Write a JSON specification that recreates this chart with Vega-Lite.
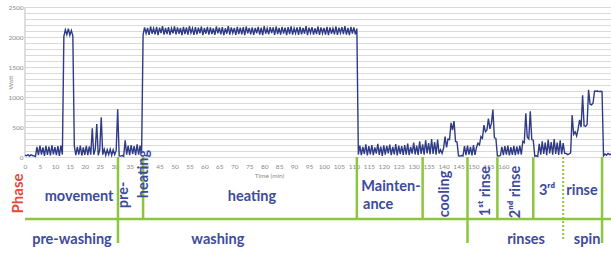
{
  "$schema": "https://vega.github.io/schema/vega-lite/v6.json",
  "width": 586,
  "height": 240,
  "autosize": {"type": "none"},
  "padding": {"left": 25, "top": 7, "right": 0, "bottom": 8},
  "config": {"view": {"stroke": null}, "font": "Lato"},
  "datasets": {
    "frame": [{"t": 0, "w": 0, "w2": 2500}],
    "power": [
      {"t":0,"w":30},{"t":0.5,"w":20},{"t":1,"w":40},{"t":1.5,"w":15},{"t":2,"w":35},{"t":2.5,"w":25},{"t":3,"w":20},{"t":3.5,"w":10},
      {"t":4,"w":170},{"t":4.5,"w":30},{"t":5,"w":190},{"t":5.5,"w":40},{"t":6,"w":160},{"t":6.5,"w":20},{"t":7,"w":185},{"t":7.5,"w":35},{"t":8,"w":175},{"t":8.5,"w":25},{"t":9,"w":195},{"t":9.5,"w":45},{"t":10,"w":165},{"t":10.5,"w":30},{"t":11,"w":180},{"t":11.5,"w":20},{"t":12,"w":190},{"t":12.5,"w":40},
      {"t":13,"w":2010},{"t":13.5,"w":2120},{"t":14,"w":2040},{"t":14.5,"w":2140},{"t":15,"w":2030},{"t":15.5,"w":2110},{"t":16,"w":2020},
      {"t":16.5,"w":180},{"t":17,"w":30},{"t":17.5,"w":170},{"t":18,"w":40},{"t":18.5,"w":190},{"t":19,"w":25},{"t":19.5,"w":160},{"t":20,"w":35},{"t":20.5,"w":185},{"t":21,"w":30},{"t":21.5,"w":175},{"t":22,"w":40},
      {"t":22.5,"w":480},{"t":23,"w":40},{"t":23.5,"w":130},{"t":24,"w":550},{"t":24.5,"w":30},{"t":25,"w":120},{"t":25.5,"w":660},{"t":26,"w":40},{"t":26.5,"w":130},{"t":27,"w":30},{"t":27.5,"w":120},{"t":28,"w":40},{"t":28.5,"w":130},{"t":29,"w":30},{"t":29.5,"w":120},{"t":30,"w":40},{"t":30.5,"w":110},{"t":31,"w":795},{"t":31.5,"w":20},
      {"t":32,"w":15},{"t":32.5,"w":25},{"t":33,"w":10},
      {"t":33.5,"w":280},{"t":34,"w":40},{"t":34.5,"w":190},{"t":35,"w":30},{"t":35.5,"w":200},{"t":36,"w":50},{"t":36.5,"w":180},{"t":37,"w":30},{"t":37.5,"w":210},{"t":38,"w":40},{"t":38.5,"w":190},{"t":39,"w":60},
      {"t":39.5,"w":2040},{"t":40,"w":2160},{"t":40.5,"w":2060},{"t":41,"w":2150},{"t":41.5,"w":2035},{"t":42,"w":2175},{"t":42.5,"w":2055},{"t":43,"w":2145},{"t":43.5,"w":2045},{"t":44,"w":2170},{"t":44.5,"w":2030},{"t":45,"w":2155},
      {"t":45.5,"w":2065},{"t":46,"w":2180},{"t":46.5,"w":2040},{"t":47,"w":2150},{"t":47.5,"w":2050},{"t":48,"w":2165},{"t":48.5,"w":2035},{"t":49,"w":2145},{"t":49.5,"w":2060},{"t":50,"w":2175},{"t":50.5,"w":2045},{"t":51,"w":2160},
      {"t":51.5,"w":2055},{"t":52,"w":2150},{"t":52.5,"w":2030},{"t":53,"w":2170},{"t":53.5,"w":2050},{"t":54,"w":2160},{"t":54.5,"w":2040},{"t":55,"w":2180},{"t":55.5,"w":2065},{"t":56,"w":2145},{"t":56.5,"w":2035},{"t":57,"w":2165},
      {"t":57.5,"w":2045},{"t":58,"w":2155},{"t":58.5,"w":2060},{"t":59,"w":2175},{"t":59.5,"w":2030},{"t":60,"w":2150},{"t":60.5,"w":2055},{"t":61,"w":2170},{"t":61.5,"w":2040},{"t":62,"w":2160},{"t":62.5,"w":2050},{"t":63,"w":2145},
      {"t":63.5,"w":2035},{"t":64,"w":2175},{"t":64.5,"w":2060},{"t":65,"w":2155},{"t":65.5,"w":2045},{"t":66,"w":2165},{"t":66.5,"w":2030},{"t":67,"w":2145},{"t":67.5,"w":2055},{"t":68,"w":2180},{"t":68.5,"w":2040},{"t":69,"w":2160},
      {"t":69.5,"w":2065},{"t":70,"w":2150},{"t":70.5,"w":2035},{"t":71,"w":2170},{"t":71.5,"w":2050},{"t":72,"w":2155},{"t":72.5,"w":2045},{"t":73,"w":2165},{"t":73.5,"w":2030},{"t":74,"w":2175},{"t":74.5,"w":2060},{"t":75,"w":2150},
      {"t":75.5,"w":2045},{"t":76,"w":2160},{"t":76.5,"w":2035},{"t":77,"w":2150},{"t":77.5,"w":2060},{"t":78,"w":2170},{"t":78.5,"w":2040},{"t":79,"w":2155},{"t":79.5,"w":2030},{"t":80,"w":2180},{"t":80.5,"w":2055},{"t":81,"w":2145},
      {"t":81.5,"w":2045},{"t":82,"w":2165},{"t":82.5,"w":2065},{"t":83,"w":2160},{"t":83.5,"w":2035},{"t":84,"w":2175},{"t":84.5,"w":2050},{"t":85,"w":2150},{"t":85.5,"w":2040},{"t":86,"w":2170},{"t":86.5,"w":2055},{"t":87,"w":2155},
      {"t":87.5,"w":2030},{"t":88,"w":2165},{"t":88.5,"w":2050},{"t":89,"w":2175},{"t":89.5,"w":2040},{"t":90,"w":2145},{"t":90.5,"w":2060},{"t":91,"w":2160},{"t":91.5,"w":2035},{"t":92,"w":2170},{"t":92.5,"w":2045},{"t":93,"w":2150},
      {"t":93.5,"w":2055},{"t":94,"w":2180},{"t":94.5,"w":2030},{"t":95,"w":2155},{"t":95.5,"w":2065},{"t":96,"w":2165},{"t":96.5,"w":2040},{"t":97,"w":2145},{"t":97.5,"w":2050},{"t":98,"w":2175},{"t":98.5,"w":2035},{"t":99,"w":2160},
      {"t":99.5,"w":2060},{"t":100,"w":2150},{"t":100.5,"w":2040},{"t":101,"w":2170},{"t":101.5,"w":2030},{"t":102,"w":2160},{"t":102.5,"w":2055},{"t":103,"w":2145},{"t":103.5,"w":2045},{"t":104,"w":2175},{"t":104.5,"w":2035},{"t":105,"w":2155},
      {"t":105.5,"w":2065},{"t":106,"w":2165},{"t":106.5,"w":2050},{"t":107,"w":2180},{"t":107.5,"w":2040},{"t":108,"w":2150},{"t":108.5,"w":2030},{"t":109,"w":2170},{"t":109.5,"w":2055},{"t":110,"w":2160},{"t":110.5,"w":2045},{"t":111,"w":2140},
      {"t":111.5,"w":40},{"t":112,"w":190},{"t":112.5,"w":30},{"t":113,"w":170},{"t":113.5,"w":50},{"t":114,"w":210},{"t":114.5,"w":25},{"t":115,"w":180},{"t":115.5,"w":45},{"t":116,"w":200},{"t":116.5,"w":30},{"t":117,"w":160},
      {"t":117.5,"w":55},{"t":118,"w":220},{"t":118.5,"w":35},{"t":119,"w":175},{"t":119.5,"w":20},{"t":120,"w":195},{"t":120.5,"w":40},{"t":121,"w":185},{"t":121.5,"w":60},{"t":122,"w":205},{"t":122.5,"w":30},{"t":123,"w":170},
      {"t":123.5,"w":45},{"t":124,"w":215},{"t":124.5,"w":25},{"t":125,"w":190},{"t":125.5,"w":50},{"t":126,"w":180},{"t":126.5,"w":35},{"t":127,"w":200},{"t":127.5,"w":40},{"t":128,"w":225},{"t":128.5,"w":30},{"t":129,"w":170},
      {"t":129.5,"w":55},{"t":130,"w":240},{"t":130.5,"w":45},{"t":131,"w":190},{"t":131.5,"w":35},{"t":132,"w":260},{"t":132.5,"w":50},{"t":133,"w":210},{"t":133.5,"w":40},{"t":134,"w":280},{"t":134.5,"w":60},{"t":135,"w":230},
      {"t":135.5,"w":45},{"t":136,"w":300},{"t":136.5,"w":50},{"t":137,"w":250},{"t":137.5,"w":40},{"t":138,"w":290},{"t":138.5,"w":60},
      {"t":139,"w":120},{"t":139.5,"w":60},{"t":140,"w":150},{"t":140.5,"w":340},{"t":141,"w":160},{"t":141.5,"w":300},{"t":142,"w":290},{"t":142.5,"w":570},{"t":143,"w":450},{"t":143.5,"w":600},{"t":144,"w":260},{"t":144.5,"w":250},{"t":145,"w":20},{"t":145.5,"w":15},{"t":146,"w":25},{"t":146.5,"w":20},
      {"t":147,"w":180},{"t":147.5,"w":30},{"t":148,"w":190},{"t":148.5,"w":40},{"t":149,"w":170},{"t":149.5,"w":25},{"t":150,"w":200},{"t":150.5,"w":35},{"t":151,"w":160},
      {"t":151.5,"w":230},{"t":152,"w":200},{"t":152.5,"w":340},{"t":153,"w":310},{"t":153.5,"w":530},{"t":154,"w":420},{"t":154.5,"w":450},{"t":155,"w":640},{"t":155.5,"w":470},{"t":156,"w":560},{"t":156.5,"w":790},{"t":157,"w":320},{"t":157.5,"w":310},{"t":158,"w":20},{"t":158.5,"w":15},{"t":159,"w":25},
      {"t":159.5,"w":170},{"t":160,"w":30},{"t":160.5,"w":180},{"t":161,"w":40},{"t":161.5,"w":190},{"t":162,"w":25},{"t":162.5,"w":165},{"t":163,"w":35},{"t":163.5,"w":185},{"t":164,"w":30},{"t":164.5,"w":175},{"t":165,"w":45},{"t":165.5,"w":190},{"t":166,"w":40},
      {"t":166.5,"w":260},{"t":167,"w":240},{"t":167.5,"w":730},{"t":168,"w":330},{"t":168.5,"w":300},{"t":169,"w":760},{"t":169.5,"w":290},{"t":170,"w":280},{"t":170.5,"w":15},{"t":171,"w":20},{"t":171.5,"w":10},
      {"t":172,"w":220},{"t":172.5,"w":40},{"t":173,"w":260},{"t":173.5,"w":50},{"t":174,"w":240},{"t":174.5,"w":30},{"t":175,"w":290},{"t":175.5,"w":60},{"t":176,"w":250},{"t":176.5,"w":40},{"t":177,"w":300},{"t":177.5,"w":50},{"t":178,"w":240},{"t":178.5,"w":35},{"t":179,"w":280},{"t":179.5,"w":45},{"t":180,"w":230},{"t":180.5,"w":60},
      {"t":181,"w":60},{"t":181.5,"w":40},{"t":182,"w":50},{"t":182.5,"w":70},
      {"t":183,"w":700},{"t":183.5,"w":380},{"t":184,"w":420},{"t":184.5,"w":350},{"t":185,"w":470},{"t":185.5,"w":620},{"t":186,"w":500},{"t":186.5,"w":1030},{"t":187,"w":520},{"t":187.5,"w":510},{"t":188,"w":540},{"t":188.5,"w":1120},{"t":189,"w":880},{"t":189.5,"w":870},{"t":190,"w":900},{"t":190.5,"w":1100},{"t":191,"w":1095},{"t":191.5,"w":1100},{"t":192,"w":1090},{"t":192.5,"w":1095},{"t":193,"w":1090},
      {"t":193.5,"w":20},{"t":194,"w":50},{"t":194.5,"w":30},{"t":195,"w":60},{"t":195.5,"w":40},{"t":196,"w":50}
    ],
    "hline": [{"t": 0, "t2": 196, "w": -1033}],
    "vlines": [
      {"t": 31.1, "w": 0, "w2": -1433},
      {"t": 39.5, "w": 0, "w2": -1033},
      {"t": 111, "w": 0, "w2": -1033},
      {"t": 133, "w": 0, "w2": -1033},
      {"t": 148, "w": 0, "w2": -1433},
      {"t": 158, "w": 0, "w2": -1033},
      {"t": 170, "w": 0, "w2": -1033},
      {"t": 193, "w": 0, "w2": -1433}
    ],
    "dotted": [{"t": 180, "w": 0, "w2": -1383}],
    "hlabels": [
      {"label": "movement", "t": 18.1, "w": -667},
      {"label": "heating", "t": 75.9, "w": -667},
      {"label": "Mainten-", "t": 122.4, "w": -500},
      {"label": "ance", "t": 118.1, "w": -800},
      {"label": "3ʳᵈ", "t": 174.6, "w": -567},
      {"label": "rinse", "t": 186.3, "w": -567},
      {"label": "pre-washing", "t": 15.7, "w": -1383},
      {"label": "washing", "t": 64.5, "w": -1383},
      {"label": "rinses", "t": 167.6, "w": -1383},
      {"label": "spin", "t": 188, "w": -1383}
    ],
    "vlabels": [
      {"label": "pre-", "t": 33.1, "w": -633},
      {"label": "heating", "t": 39.8, "w": -283},
      {"label": "cooling", "t": 140.5, "w": -617},
      {"label": "1ˢᵗ rinse", "t": 154.2, "w": -567},
      {"label": "2ⁿᵈ rinse", "t": 164.2, "w": -583}
    ],
    "phase": [{"label": "Phase", "t": -2.3, "w": -608}]
  },
  "encoding": {
    "x": {
      "field": "t", "type": "quantitative",
      "scale": {"domain": [0, 196], "nice": false, "zero": false},
      "axis": {
        "title": "Time (min)", "offset": -90,
        "values": [0,5,10,15,20,25,30,35,40,45,50,55,60,65,70,75,80,85,90,95,100,105,110,115,120,125,130,135,140,145,150,155,160],
        "grid": false, "domain": false, "ticks": false, "tickSize": 0,
        "labelPadding": 6, "labelFontSize": 6.5, "labelColor": "#8a8a8a",
        "labelFlush": false, "labelOverlap": false, "labelFont": "Lato",
        "titleFontSize": 6.5, "titleColor": "#8a8a8a", "titleFontWeight": "normal", "titleFont": "Lato",
        "titleX": 244, "titleY": 18, "titleBaseline": "middle"
      }
    },
    "y": {
      "field": "w", "type": "quantitative",
      "scale": {"domain": [-1500, 2500], "nice": false, "zero": false},
      "axis": {
        "title": "Watt",
        "values": [0,100,200,300,400,500,600,700,800,900,1000,1100,1200,1300,1400,1500,1600,1700,1800,1900,2000,2100,2200,2300,2400,2500],
        "format": "d",
        "labelExpr": "datum.value % 500 === 0 ? datum.label : ''",
        "grid": true, "gridColor": "#dadada", "gridWidth": 1,
        "domain": false, "ticks": false, "tickSize": 0,
        "labelPadding": 2, "labelFontSize": 6.5, "labelColor": "#8a8a8a", "labelFont": "Lato",
        "labelFlush": false, "labelOverlap": false,
        "titleFontSize": 6.5, "titleColor": "#8a8a8a", "titleFontWeight": "normal", "titleFont": "Lato",
        "titleX": -15, "titleY": 75, "titleAlign": "center", "titleBaseline": "middle"
      }
    }
  },
  "layer": [
    {
      "data": {"name": "frame"},
      "mark": {"type": "rule", "color": "#bdbdbd", "strokeWidth": 1},
      "encoding": {"y2": {"field": "w2"}}
    },
    {
      "data": {"name": "power"},
      "mark": {"type": "line", "color": "#2f3b86", "strokeWidth": 1.4, "interpolate": "linear"}
    },
    {
      "data": {"name": "hline"},
      "mark": {"type": "rule", "color": "#8cc63e", "strokeWidth": 2.5},
      "encoding": {"x2": {"field": "t2"}}
    },
    {
      "data": {"name": "vlines"},
      "mark": {"type": "rule", "color": "#8cc63e", "strokeWidth": 2.5},
      "encoding": {"y2": {"field": "w2"}}
    },
    {
      "data": {"name": "dotted"},
      "mark": {"type": "rule", "color": "#8cc63e", "strokeWidth": 2, "strokeDash": [2, 2]},
      "encoding": {"y2": {"field": "w2"}}
    },
    {
      "data": {"name": "hlabels"},
      "mark": {"type": "text", "font": "Lato", "fontWeight": "bold", "fontSize": 14.5, "color": "#3d4b9c", "align": "center", "baseline": "middle"},
      "encoding": {"text": {"field": "label"}}
    },
    {
      "data": {"name": "vlabels"},
      "mark": {"type": "text", "font": "Lato", "fontWeight": "bold", "fontSize": 14.5, "color": "#3d4b9c", "align": "center", "baseline": "middle", "angle": 270},
      "encoding": {"text": {"field": "label"}}
    },
    {
      "data": {"name": "phase"},
      "mark": {"type": "text", "font": "Lato", "fontWeight": "bold", "fontSize": 15, "color": "#e8473a", "align": "center", "baseline": "middle", "angle": 270},
      "encoding": {"text": {"field": "label"}}
    }
  ]
}
